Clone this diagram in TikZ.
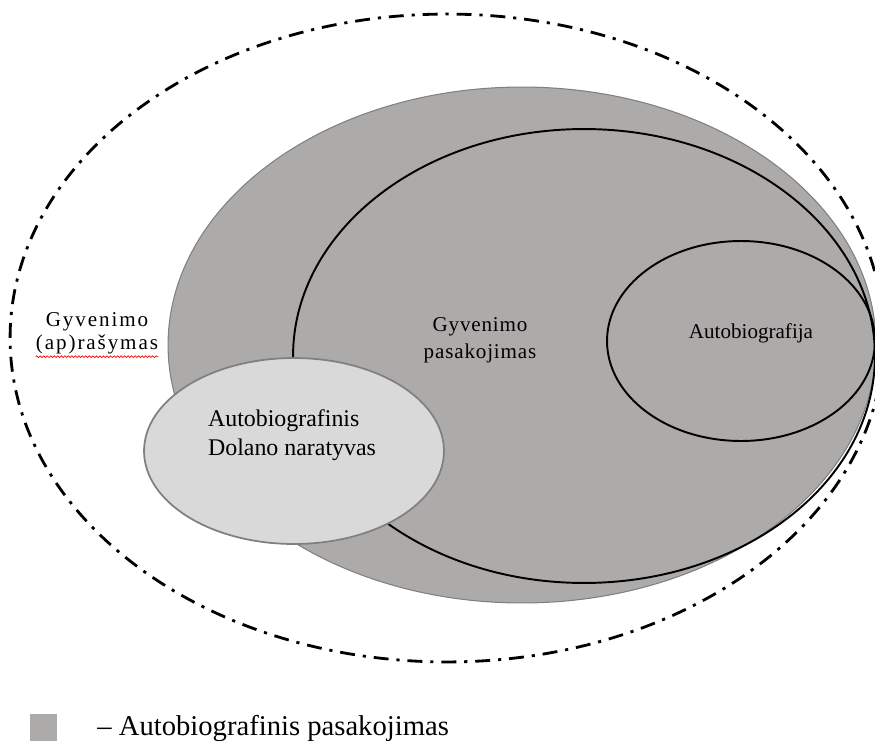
\documentclass[tikz,border=0pt]{standalone}
\usepackage{fontspec}
\setmainfont{Liberation Serif}
\usetikzlibrary{shapes.geometric,decorations.pathmorphing}
\definecolor{outergray}{RGB}{173,170,170}
\definecolor{innergray}{RGB}{217,217,217}
\definecolor{rimgray}{RGB}{128,128,128}

\begin{document}
\begin{tikzpicture}[x=0.02cm, y=-0.02cm,
        oval/.style={ellipse, inner sep=0pt},
        ring/.style={oval, draw, line width=1.1pt},
        txt/.style={inner sep=0pt, align=center, font=\fontsize{12}{13}\selectfont}]
        \useasboundingbox (0,0) rectangle (875,740);

        \node (W) at (447,338) [oval, draw, line width=1.6pt, dash pattern=on 8.5pt off 4.5pt on 1.8pt off 4.5pt, minimum width=17.48cm, minimum height=12.96cm] {};
        \node (P) at (522,345) [oval, fill=outergray, draw=rimgray, line width=0.6pt, minimum width=14.16cm, minimum height=10.32cm] {};
        \node (G) at (584,356) [ring, minimum width=11.64cm, minimum height=9.08cm] {};
        \node (A) at (741,341) [ring, minimum width=5.36cm, minimum height=4cm] {};
        \node (D) at (294,451) [oval, fill=innergray, draw=rimgray, line width=1pt, minimum width=6cm, minimum height=3.72cm] {};

        \node (lifewriting) at (97,333) [txt, font=\fontsize{12}{13}\selectfont\addfontfeatures{LetterSpace=9}] {Gyvenimo\\(ap)rašymas};
        \draw [red, line width=0.4pt, decorate, decoration={snake, amplitude=0.5pt, segment length=2pt}] ([yshift=-1.5pt]lifewriting.south west) -- ([yshift=-1.5pt]lifewriting.south east);
        \node (lifestory) at (480,340) [txt, font=\fontsize{12}{15.4}\selectfont\addfontfeatures{LetterSpace=4}] {Gyvenimo\\pasakojimas};
        \node (autobio) at (751,338) [txt, anchor=base] {Autobiografija};
        \node (dolan) at (292,435) [txt, align=left, font=\fontsize{13.6}{16.5}\selectfont] {Autobiografinis\\Dolano naratyvas};

        \node (key) at (43.5,727.5) [fill=outergray, inner sep=0pt, minimum size=0.54cm] {};
        \node (keytext) at (97,735) [anchor=base west, inner sep=0pt, font=\fontsize{16.3}{18}\selectfont] {– Autobiografinis pasakojimas};
    \end{tikzpicture}
\end{document}
